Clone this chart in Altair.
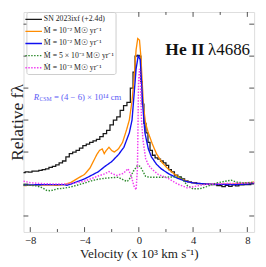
import altair as alt
import pandas as pd

# ---------------- data ----------------
obs_v = [-8.5, -8.25, -8.0, -7.75, -7.5, -7.25, -7.0, -6.75, -6.5, -6.25, -6.0, -5.75, -5.5,
         -5.25, -5.0, -4.75, -4.5, -4.25, -4.0, -3.75, -3.5, -3.25, -3.0, -2.75, -2.5, -2.25,
         -2.0, -1.75, -1.5, -1.25, -1.0, -0.75, -0.5, -0.35, -0.2, -0.05, 0.1, 0.2, 0.3, 0.45,
         0.6, 0.75, 0.9, 1.1, 1.3, 1.5, 1.7, 1.9, 2.1, 2.3, 2.5, 2.75, 3.0, 3.25, 3.5, 3.75,
         4.0, 4.5, 5.0, 5.5, 6.0, 6.25, 6.5, 6.75, 7.0, 7.25, 7.5, 8.0, 8.5]
obs_f = [1.36, 1.38, 1.37, 1.40, 1.40, 1.43, 1.45, 1.47, 1.52, 1.55, 1.60, 1.66, 1.72,
         1.85, 1.95, 2.00, 2.05, 2.12, 2.20, 2.25, 2.30, 2.35, 2.40, 2.48, 2.58, 2.68,
         2.85, 3.00, 3.10, 3.30, 3.45, 3.55, 4.00, 4.50, 5.00, 5.02, 5.00, 4.20, 3.50, 2.90,
         2.60, 2.30, 2.05, 1.90, 1.82, 1.78, 1.72, 1.66, 1.58, 1.45, 1.38, 1.28, 1.22, 1.16,
         1.10, 1.07, 1.04, 1.01, 1.00, 0.98, 0.95, 0.92, 0.96, 0.93, 0.97, 0.94, 0.97, 0.98, 1.03]

m1_v = [-8.5, -8.0, -7.0, -6.0, -5.5, -5.0, -4.5, -4.0, -3.6, -3.3, -3.1, -2.9, -2.7, -2.55,
        -2.4, -2.2, -2.0, -1.8, -1.5, -1.2, -0.9, -0.7, -0.5, -0.35, -0.2, -0.08, 0.05, 0.15,
        0.25, 0.35, 0.5, 0.7, 1.0, 1.3, 1.7, 2.14, 2.6, 3.07, 3.5, 4.07, 5.0, 6.0, 7.0, 8.0, 8.5]
m1_f = [0.95, 0.96, 0.97, 0.96, 0.98, 1.05, 1.18, 1.30, 1.50, 1.75, 1.92, 2.05, 2.10, 1.95,
        2.05, 2.15, 2.05, 2.00, 2.10, 2.30, 2.70, 3.00, 3.60, 4.30, 5.20, 5.55, 5.50, 5.00,
        4.20, 3.40, 2.90, 2.60, 2.25, 1.95, 1.68, 1.48, 1.32, 1.18, 1.09, 1.03, 1.00, 0.99, 1.00, 1.03, 1.06]

m2_v = [-8.5, -7.0, -6.0, -5.5, -5.3, -5.0, -4.5, -4.0, -3.5, -3.0, -2.5, -2.0, -1.5, -1.1,
        -0.7, -0.5, -0.35, -0.2, -0.05, 0.1, 0.2, 0.3, 0.45, 0.7, 0.93, 1.3, 1.64, 2.2, 2.86,
        3.5, 4.07, 5.0, 6.0, 7.0, 8.0, 8.5]
m2_f = [0.97, 0.98, 0.98, 0.98, 0.96, 1.00, 1.08, 1.16, 1.27, 1.38, 1.55, 1.70, 1.92, 2.15,
        2.60, 3.00, 3.80, 4.60, 5.00, 4.90, 4.20, 3.40, 2.60, 2.10, 1.85, 1.62, 1.48, 1.32, 1.18,
        1.08, 1.03, 1.00, 0.99, 0.98, 1.00, 1.02]

m3_v = [-8.5, -8.0, -7.5, -7.1, -6.8, -6.5, -6.0, -5.5, -5.0, -4.5, -4.0, -3.5, -3.0, -2.5,
        -2.0, -1.5, -1.1, -0.85, -0.7, -0.4, -0.1, 0.1, 0.3, 0.5, 0.8, 1.5, 2.5, 3.1, 3.4, 3.6,
        4.0, 4.5, 5.0, 5.7, 6.3, 6.8, 7.2, 7.7, 8.5]
m3_f = [0.97, 0.96, 0.94, 0.88, 0.80, 0.79, 0.85, 0.87, 0.91, 0.97, 1.03, 1.10, 1.15, 1.18,
        1.20, 1.21, 1.12, 1.08, 1.15, 1.40, 1.58, 1.55, 1.40, 1.24, 1.21, 1.21, 1.22, 1.22, 1.05, 0.94,
        0.85, 0.85, 0.92, 1.03, 1.08, 1.12, 1.06, 1.04, 1.05]

m4_v = [-8.5, -8.0, -7.0, -6.0, -5.4, -4.5, -4.0, -3.5, -3.0, -2.5, -2.2, -2.0, -1.64, -1.4,
        -1.14, -0.8, -0.57, -0.36, -0.2, -0.1, -0.02, 0.05, 0.12, 0.2, 0.3, 0.5, 0.7, 1.0, 1.43,
        2.14, 2.86, 3.57, 4.3, 5.0, 6.0, 7.0, 8.0, 8.5]
m4_f = [1.09, 1.04, 1.01, 1.00, 1.00, 1.05, 1.09, 1.17, 1.25, 1.32, 1.39, 1.33, 1.27, 1.30,
        1.33, 1.48, 1.27, 0.94, 0.82, 1.50, 4.20, 4.60, 4.20, 3.00, 2.40, 1.80, 1.60, 1.45, 1.30,
        1.18, 1.00, 0.88, 0.94, 0.99, 1.01, 1.02, 1.03, 1.04]

series_keys = ["obs", "m1", "m2", "m3", "m4"]
series_labels = [
    "SN 2023ixf (+2.4d)",
    "\u1e40 = 10\u207b\u00b2 M\u2609 yr\u207b\u00b9",
    "\u1e40 = 10\u207b\u00b2 M\u2609 yr\u207b\u00b9",
    "\u1e40 = 5 \u00d7 10\u207b\u00b3 M\u2609 yr\u207b\u00b9",
    "\u1e40 = 10\u207b\u00b3 M\u2609 yr\u207b\u00b9",
]

x_major = [-8, -4, 0, 4, 8]
x_minor = [-6, -2, 2, 6]
y_ticks = [0, 1, 2, 3, 4, 5, 6]

# ---------------- styles ----------------
colors = ["#1a1a1a", "#ff8c00", "#1010f0", "#2e8b2e", "#f03cf0"]
dashes = [[1, 0], [1, 0], [1, 0], [1.5, 1.5], [1.5, 1.5]]
widths = [1.3, 1.5, 1.8, 1.2, 1.2]
FONT = "Liberation Serif"
W, H = 238, 227

rows = []
for key, vs, fs in [("obs", obs_v, obs_f), ("m1", m1_v, m1_f), ("m2", m2_v, m2_f),
                    ("m3", m3_v, m3_f), ("m4", m4_v, m4_f)]:
    for v, f in zip(vs, fs):
        rows.append({"s": key, "v": v, "f": f})
df = pd.DataFrame(rows)

label_expr = "".join(f"datum.label == '{k}' ? '{l}' : " for k, l in zip(series_keys, series_labels)) + "datum.label"

xscale = alt.Scale(domain=[-8.5, 8.5], nice=False, zero=False)
yscale = alt.Scale(domain=[-0.5, 6.38], nice=False, zero=False)

legend = alt.Legend(title=None, labelExpr=label_expr, orient="none", legendX=3, legendY=0,
                    symbolType="M-1.9,0L1.9,0", symbolSize=81, symbolStrokeWidth=1.5,
                    labelFont=FONT, labelFontSize=8, labelColor="#222",
                    padding=2, rowPadding=2.5, labelOffset=5,
                    strokeColor="#cccccc", fillColor="white", cornerRadius=2)

xaxis = alt.Axis(values=x_major, ticks=False, tickSize=0, domain=False, grid=False,
                 labelFont=FONT, labelFontSize=11, labelColor="#222", labelPadding=3,
                 title="Velocity (x 10\u00b3 km s\u207b\u00b9)", titleFont=FONT, titleFontSize=13.5,
                 titleFontWeight="normal", titleColor="#222", titlePadding=1)
yaxis = alt.Axis(labels=False, ticks=False, tickSize=0, domain=False, grid=False,
                 title="Relative f\u03bb", titleFont=FONT, titleFontSize=18,
                 titleFontWeight="normal", titleColor="#222",
                 titleX=-1, titleY=H / 2, titleAngle=270, titleAlign="center",
                 titleBaseline="alphabetic")

enc_common = dict(
    x=alt.X("v:Q", scale=xscale, axis=xaxis),
    y=alt.Y("f:Q", scale=yscale, axis=yaxis),
    color=alt.Color("s:N", scale=alt.Scale(domain=series_keys, range=colors), legend=legend),
    strokeDash=alt.StrokeDash("s:N", scale=alt.Scale(domain=series_keys, range=dashes), legend=legend),
    strokeWidth=alt.StrokeWidth("s:N", scale=alt.Scale(domain=series_keys, range=widths), legend=None),
)

obs_layer = alt.Chart(df[df.s == "obs"]).mark_line(interpolate="step").encode(**enc_common)
mod_layer = alt.Chart(df[df.s != "obs"]).mark_line().encode(**enc_common)

tmaj = pd.DataFrame({"t": x_major})
tmin = pd.DataFrame({"t": x_minor})
ty = pd.DataFrame({"t": y_ticks})
tick_col = "#222"

def xticks(d, ln):
    b = alt.Chart(d).mark_rule(color=tick_col, strokeWidth=0.8).encode(
        x=alt.X("t:Q", scale=xscale), y=alt.value(H), y2=alt.value(H - ln))
    t = alt.Chart(d).mark_rule(color=tick_col, strokeWidth=0.8).encode(
        x=alt.X("t:Q", scale=xscale), y=alt.value(0), y2=alt.value(ln))
    return b + t

yt_l = alt.Chart(ty).mark_rule(color=tick_col, strokeWidth=0.8).encode(
    y=alt.Y("t:Q", scale=yscale), x=alt.value(0), x2=alt.value(5))
yt_r = alt.Chart(ty).mark_rule(color=tick_col, strokeWidth=0.8).encode(
    y=alt.Y("t:Q", scale=yscale), x=alt.value(W), x2=alt.value(W - 5))

he1 = alt.Chart(pd.DataFrame({"a": [0]})).mark_text(
    text="He II", font=FONT, fontSize=18, fontWeight="bold", align="right",
    baseline="alphabetic", color="#111").encode(x=alt.datum(4.85), y=alt.datum(5.03))
he2 = alt.Chart(pd.DataFrame({"a": [0]})).mark_text(
    text="\u03bb4686", font=FONT, fontSize=17.5, align="left",
    baseline="alphabetic", color="#111").encode(x=alt.datum(5.1), y=alt.datum(5.03))

rc = "#5a5af5"
r1 = alt.Chart(pd.DataFrame({"a": [0]})).mark_text(
    text="R", font=FONT, fontSize=9, fontStyle="italic", align="left",
    baseline="middle", color=rc).encode(x=alt.datum(-7.75), y=alt.datum(3.73))
r2 = alt.Chart(pd.DataFrame({"a": [0]})).mark_text(
    text="CSM", font=FONT, fontSize=6, align="left", dx=6, dy=2.5,
    baseline="middle", color=rc).encode(x=alt.datum(-7.75), y=alt.datum(3.73))
r3 = alt.Chart(pd.DataFrame({"a": [0]})).mark_text(
    text="= (4 \u2212 6) \u00d7 10\u00b9\u2074 cm", font=FONT, fontSize=9, align="left", dx=21,
    baseline="middle", color=rc).encode(x=alt.datum(-7.75), y=alt.datum(3.73))

chart = alt.layer(
    obs_layer, mod_layer,
    xticks(tmaj, 5), xticks(tmin, 3), yt_l, yt_r,
    he1, he2, r1, r2, r3,
).properties(
    width=W, height=H,
    autosize=alt.AutoSizeParams(type="none"),
    padding={"left": 16, "top": 0, "right": 4, "bottom": 32},
).configure_view(
    stroke="#222", strokeWidth=1
).configure(background="white")

chart.save("out.html", embed_options={"renderer": "svg", "actions": False})
